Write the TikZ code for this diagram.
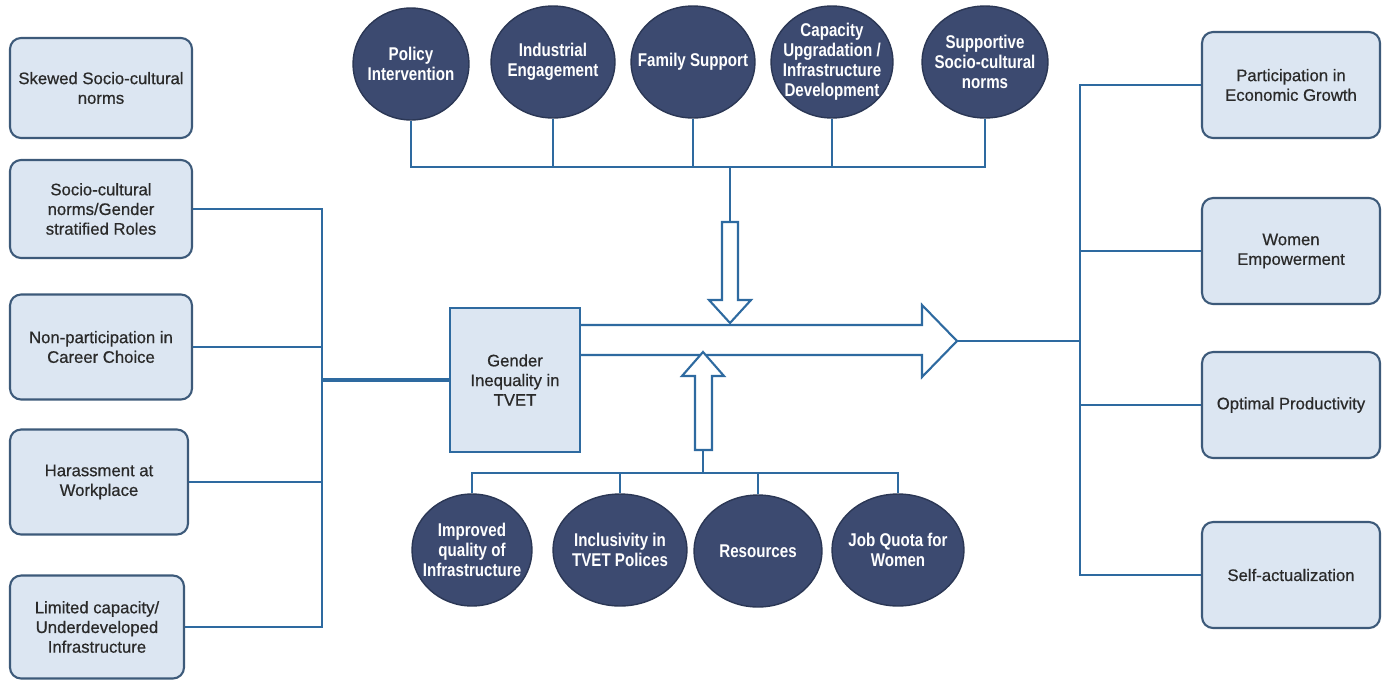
\documentclass[tikz,border=0pt]{standalone}
\usepackage{fontspec}
\setmainfont{Liberation Sans}
\newfontfamily\circfont[FakeStretch=0.82]{Liberation Sans}
\newfontfamily\boxfont[FakeBold=0.6]{Liberation Sans}
\usetikzlibrary{shapes.geometric}
\definecolor{linec}{HTML}{2E6AA0}
\definecolor{boxfill}{HTML}{DCE6F2}
\definecolor{boxdraw}{HTML}{3D5A7A}
\definecolor{circfill}{HTML}{3C4A70}
\definecolor{circdraw}{HTML}{2B3755}
\definecolor{txt}{HTML}{2A2A2A}
\tikzset{
  sbox/.style={draw=boxdraw, line width=1.2pt, fill=boxfill, rounded corners=0.22cm,
    align=center, text=txt, inner sep=2pt, font=\boxfont\fontsize{9.5}{11.2}\selectfont},
  gbox/.style={draw=linec, line width=1.2pt, fill=boxfill, align=center, text=txt,
    inner sep=2pt, font=\boxfont\fontsize{9.5}{11.2}\selectfont},
  circ/.style={ellipse, draw=circdraw, line width=0.8pt, fill=circfill, inner sep=0pt},
  ctext/.style={align=center, text=white, inner sep=0pt,
    font=\circfont\bfseries\fontsize{10.5}{11.4}\selectfont},
  conn/.style={draw=linec, line width=1.3pt},
  bigar/.style={draw=linec, line width=1.2pt, fill=white, line join=miter},
}
\begin{document}
\begin{tikzpicture}[x=0.02cm, y=-0.02cm]
\useasboundingbox (0,0) rectangle (1382,680);

% left boxes
\node[sbox, minimum width=3.64cm, minimum height=2.0cm] (L1) at (101,88) {Skewed Socio-cultural\\norms};
\node[sbox, minimum width=3.64cm, minimum height=1.96cm] (L2) at (101,209) {Socio-cultural\\norms/Gender\\stratified Roles};
\node[sbox, minimum width=3.64cm, minimum height=2.1cm] (L3) at (101,347) {Non-participation in\\Career Choice};
\node[sbox, minimum width=3.56cm, minimum height=2.1cm] (L4) at (99,482) {Harassment at\\Workplace};
\node[sbox, minimum width=3.48cm, minimum height=2.06cm] (L5) at (97,627) {Limited capacity/\\Underdeveloped\\Infrastructure};

% central box
\node[gbox, minimum width=2.6cm, minimum height=2.88cm] (G) at (515,380) {Gender\\Inequality in\\TVET};

% right boxes
\node[sbox, minimum width=3.56cm, minimum height=2.12cm] (R1) at (1291,85) {Participation in\\Economic Growth};
\node[sbox, minimum width=3.56cm, minimum height=2.12cm] (R2) at (1291,251) {Women\\Empowerment};
\node[sbox, minimum width=3.56cm, minimum height=2.12cm] (R3) at (1291,405) {Optimal Productivity};
\node[sbox, minimum width=3.56cm, minimum height=2.12cm] (R4) at (1291,575) {Self-actualization};

% top circles
\node[circ, minimum width=2.32cm, minimum height=2.24cm] (T1) at (411,64) {};
\node[ctext] at (T1) {Policy\\Intervention};
\node[circ, minimum width=2.48cm, minimum height=2.24cm] (T2) at (553,62) {};
\node[ctext] at (T2) {Industrial\\Engagement};
\node[circ, minimum width=2.48cm, minimum height=2.24cm] (T3) at (693,62) {};
\node[ctext] at (T3) {Family Support};
\node[circ, minimum width=2.44cm, minimum height=2.24cm] (T4) at (832,62) {};
\node[ctext] at (T4) {Capacity\\Upgradation /\\Infrastructure\\Development};
\node[circ, minimum width=2.52cm, minimum height=2.24cm] (T5) at (985,62) {};
\node[ctext] at (T5) {Supportive\\Socio-cultural\\norms};

% bottom circles
\node[circ, minimum width=2.4cm, minimum height=2.24cm] (B1) at (472,550) {};
\node[ctext] at (B1) {Improved\\quality of\\Infrastructure};
\node[circ, minimum width=2.68cm, minimum height=2.24cm] (B2) at (620,550) {};
\node[ctext] at (B2) {Inclusivity in\\TVET Polices};
\node[circ, minimum width=2.56cm, minimum height=2.24cm] (B3) at (758,551) {};
\node[ctext] at (B3) {Resources};
\node[circ, minimum width=2.64cm, minimum height=2.24cm] (B4) at (898,550) {};
\node[ctext] at (B4) {Job Quota for\\Women};

% coordinates
\coordinate (topbus) at (730,167);
\coordinate (dtop) at (730,222);
\coordinate (botbus) at (703,473);
\coordinate (utop) at (703,450);
\coordinate (lbus) at (322,380);
\coordinate (tip) at (957,341);
\coordinate (rbus) at (1080,341);

% big arrow
\draw[bigar] (G.east |- 0,325) -- (922,325) -- (922,305) -- (tip) -- (922,377) -- (922,355) -- (G.east |- 0,355);
% down arrow
\draw[bigar] (722,222) -- (738,222) -- (738,300) -- (751,300) -- (730,323) -- (709,300) -- (722,300) -- cycle;
% up arrow
\draw[bigar] (695,450) -- (712,450) -- (712,376) -- (724,376) -- (703,352) -- (682,376) -- (695,376) -- cycle;

% top connectors
\draw[conn] (T1.south) |- (topbus) -| (T5.south);
\draw[conn] (T2.south) -- (T2.south |- topbus);
\draw[conn] (T3.south) -- (T3.south |- topbus);
\draw[conn] (T4.south) -- (T4.south |- topbus);
\draw[conn] (topbus) -- (dtop);

% bottom connectors
\draw[conn] (B1.north) |- (botbus) -| (B4.north);
\draw[conn] (B2.north) -- (B2.north |- botbus);
\draw[conn] (B3.north) -- (B3.north |- botbus);
\draw[conn] (botbus) -- (utop);

% left connectors
\draw[conn] (L2.east) -| (lbus);
\draw[conn] (L5.east) -| (lbus);
\draw[conn] (L3.east) -- (L3.east -| lbus);
\draw[conn] (L4.east) -- (L4.east -| lbus);
\draw[conn, line width=1.8pt] (lbus) -- (G.west);

% right connectors
\draw[conn] (tip) -- (rbus);
\draw[conn] (R1.west) -| (rbus);
\draw[conn] (R4.west) -| (rbus);
\draw[conn] (R2.west) -- (R2.west -| rbus);
\draw[conn] (R3.west) -- (R3.west -| rbus);
\end{tikzpicture}
\end{document}
